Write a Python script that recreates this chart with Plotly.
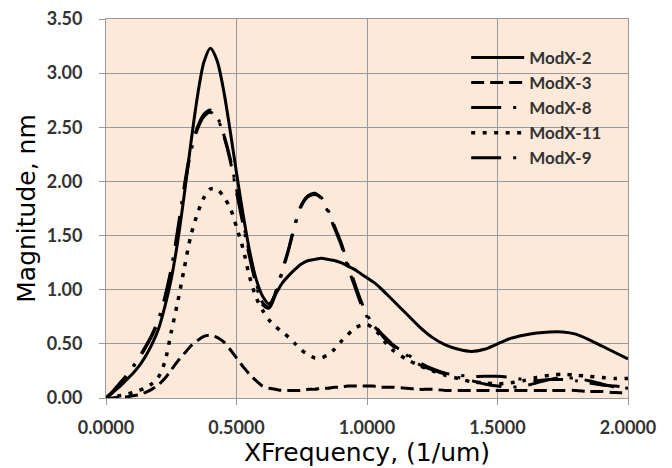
import plotly.graph_objects as go

# Shared x positions (1/um)
x_freq = [0.000, 0.025, 0.050, 0.075, 0.100,
          0.125, 0.150, 0.175, 0.200, 0.225,
          0.250, 0.275, 0.300, 0.325, 0.350,
          0.375, 0.400, 0.425, 0.450, 0.475,
          0.500, 0.525, 0.550, 0.575, 0.600,
          0.625, 0.650, 0.675, 0.700, 0.725,
          0.750, 0.775, 0.800, 0.825, 0.850,
          0.875, 0.900, 0.925, 0.950, 0.975,
          1.000, 1.025, 1.050, 1.075, 1.100,
          1.15, 1.20, 1.25, 1.30, 1.35, 1.40, 1.45, 1.50, 1.55,
          1.60, 1.65, 1.70, 1.75, 1.80, 1.85, 1.90, 1.95, 2.00]

modx_2 = [0.00, 0.05, 0.10, 0.16, 0.22,
          0.29, 0.38, 0.49, 0.63, 0.84,
          1.10, 1.45, 1.88, 2.35, 2.78,
          3.10, 3.23, 3.12, 2.85, 2.48,
          2.08, 1.70, 1.36, 1.10, 0.94,
          0.87, 0.96, 1.06, 1.13, 1.19,
          1.24, 1.27, 1.28, 1.29, 1.28,
          1.27, 1.25, 1.22, 1.19, 1.15,
          1.11, 1.07, 1.02, 0.96, 0.90,
          0.78, 0.66, 0.56, 0.49, 0.45, 0.43, 0.45, 0.50, 0.55,
          0.58, 0.60, 0.61, 0.61, 0.59, 0.54, 0.48, 0.42, 0.36]

modx_3 = [0.00, 0.00, 0.01, 0.01, 0.02,
          0.03, 0.05, 0.08, 0.12, 0.18,
          0.26, 0.34, 0.41, 0.48, 0.53,
          0.57, 0.58, 0.56, 0.52, 0.45,
          0.37, 0.29, 0.22, 0.16, 0.11,
          0.09, 0.08, 0.07, 0.07, 0.07,
          0.07, 0.08, 0.08, 0.09, 0.09,
          0.10, 0.10, 0.11, 0.11, 0.11,
          0.11, 0.11, 0.10, 0.10, 0.10,
          0.09, 0.08, 0.08, 0.07, 0.07, 0.07, 0.07, 0.07, 0.07,
          0.07, 0.07, 0.07, 0.07, 0.07, 0.06, 0.06, 0.05, 0.05]

modx_8 = [0.00, 0.06, 0.13, 0.20, 0.28,
          0.37, 0.47, 0.58, 0.72, 0.93,
          1.20, 1.56, 1.96, 2.30, 2.50,
          2.62, 2.66, 2.60, 2.44, 2.22,
          1.93, 1.63, 1.33, 1.07, 0.88,
          0.84, 0.98, 1.18, 1.38, 1.62,
          1.79, 1.87, 1.89, 1.84, 1.72,
          1.57, 1.42, 1.22, 1.05, 0.88,
          0.75, 0.67, 0.60, 0.53, 0.48,
          0.40, 0.31, 0.26, 0.22, 0.19, 0.16, 0.13, 0.11, 0.10,
          0.11, 0.14, 0.17, 0.19, 0.18, 0.16, 0.13, 0.10, 0.09]

modx_11 = [0.00, 0.01, 0.02, 0.03, 0.05,
           0.07, 0.09, 0.13, 0.19, 0.33,
           0.61, 0.89, 1.20, 1.50, 1.70,
           1.85, 1.93, 1.93, 1.86, 1.76,
           1.58, 1.38, 1.12, 0.93, 0.81,
           0.72, 0.66, 0.61, 0.56, 0.50,
           0.44, 0.40, 0.37, 0.37, 0.40,
           0.45, 0.52, 0.58, 0.64, 0.67,
           0.68, 0.64, 0.58, 0.50, 0.44,
           0.36, 0.30, 0.25, 0.21, 0.18, 0.15, 0.14, 0.13, 0.14,
           0.16, 0.19, 0.21, 0.22, 0.21, 0.20, 0.19, 0.18, 0.18]

modx_9 = [0.00, 0.05, 0.12, 0.19, 0.27,
          0.36, 0.46, 0.57, 0.71, 0.91,
          1.18, 1.53, 1.93, 2.27, 2.48,
          2.60, 2.64, 2.59, 2.43, 2.20,
          1.90, 1.60, 1.30, 1.05, 0.86,
          0.83, 0.96, 1.16, 1.37, 1.60,
          1.78, 1.86, 1.88, 1.85, 1.74,
          1.59, 1.44, 1.25, 1.08, 0.91,
          0.77, 0.68, 0.61, 0.55, 0.49,
          0.41, 0.33, 0.27, 0.23, 0.21, 0.20, 0.20, 0.20, 0.19,
          0.17, 0.16, 0.17, 0.17, 0.16, 0.14, 0.12, 0.11, 0.10]

series_names = ["ModX-2", "ModX-3", "ModX-8", "ModX-11", "ModX-9"]
series_values = [modx_2, modx_3, modx_8, modx_11, modx_9]

y_ticks = [0.0, 0.5, 1.0, 1.5, 2.0, 2.5, 3.0, 3.5]
x_ticks = [0.0, 0.5, 1.0, 1.5, 2.0]

styles = {
    "ModX-2": dict(dash="solid", width=3),
    "ModX-3": dict(dash="13px,6px", width=3),
    "ModX-8": dict(dash="30px,12px,3px,12px", width=3),
    "ModX-11": dict(dash="4px,7.5px", width=3.5),
    "ModX-9": dict(dash="30px,12px,3px,12px", width=3),
}

fig = go.Figure()
for name, vals in zip(series_names, series_values):
    st = styles[name]
    fig.add_trace(go.Scatter(
        x=x_freq, y=vals, name=name, mode="lines",
        line=dict(color="black", width=st["width"], dash=st["dash"],
                  shape="spline", smoothing=0.8),
    ))

grid_col = "#9a9a9a"
tick_font = dict(family="Lato", size=18, color="#333333", weight="bold")
title_font = dict(family="DejaVu Sans", size=25, color="black")

fig.update_layout(
    width=672, height=468,
    margin=dict(l=106, r=44, t=19, b=70),
    paper_bgcolor="white",
    plot_bgcolor="#FDE9D9",
    showlegend=True,
    legend=dict(
        x=0.69, y=0.945, xanchor="left", yanchor="top",
        bgcolor="rgba(0,0,0,0)", borderwidth=0,
        font=dict(family="Lato", size=17, color="#333333", weight="bold"),
        itemwidth=53, traceorder="normal",
    ),
    xaxis=dict(
        range=[0, 2.0], tickvals=x_ticks, tickformat=".4f",
        showgrid=True, gridcolor=grid_col, gridwidth=1,
        showline=True, linecolor=grid_col, linewidth=1, mirror=True,
        ticks="outside", ticklen=6, tickcolor=grid_col,
        zeroline=False, tickfont=tick_font, ticklabelstandoff=7,
        automargin=False,
        title=dict(text="XFrequency, (1/um)", font=title_font, standoff=2),
    ),
    yaxis=dict(
        range=[0, 3.5], tickvals=y_ticks, tickformat=".2f",
        showgrid=True, gridcolor=grid_col, gridwidth=1,
        showline=True, linecolor=grid_col, linewidth=1, mirror=True,
        ticks="outside", ticklen=6, tickcolor=grid_col,
        zeroline=False, tickfont=tick_font, ticklabelstandoff=13,
        automargin=False,
        title=dict(text="Magnitude, nm", font=title_font, standoff=4),
    ),
)

fig.write_html("out.html")
